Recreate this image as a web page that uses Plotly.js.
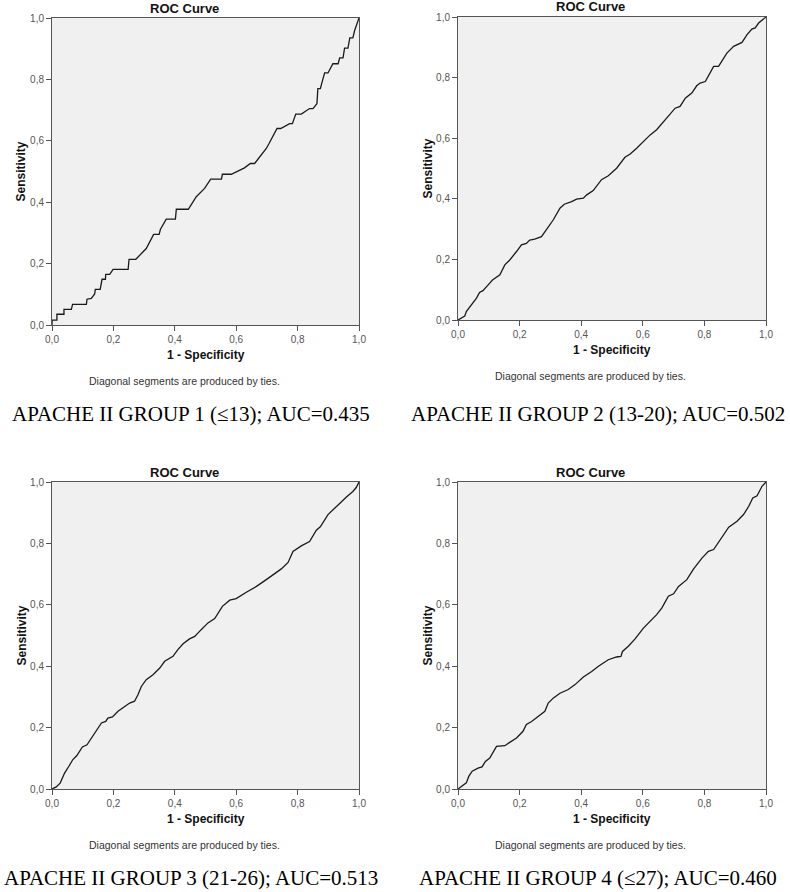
<!DOCTYPE html>
<html>
<head>
<meta charset="utf-8">
<script src="https://cdn.plot.ly/plotly-3.0.1.min.js"></script>
<style>
  html, body { margin: 0; padding: 0; background: #fff; }
  #chart { width: 790px; height: 892px; }
</style>
</head>
<body>
<div id="chart"></div>
<script>
// ROC curve points (1 - specificity, sensitivity)
const g1x = [0, 0, 0.016, 0.016, 0.039, 0.039, 0.063, 0.067, 0.112, 0.114, 0.128, 0.139, 0.141, 0.157, 0.163, 0.174, 0.175, 0.188, 0.199, 0.248, 0.251, 0.273, 0.307, 0.331, 0.349, 0.353, 0.372, 0.402, 0.405, 0.444, 0.470, 0.497, 0.517, 0.552, 0.555, 0.584, 0.627, 0.646, 0.660, 0.698, 0.707, 0.733, 0.745, 0.774, 0.783, 0.794, 0.812, 0.839, 0.850, 0.863, 0.866, 0.874, 0.888, 0.899, 0.915, 0.932, 0.937, 0.948, 0.953, 0.964, 0.970, 0.980, 0.986, 0.993, 1];
const g1y = [0, 0.016, 0.016, 0.035, 0.035, 0.051, 0.051, 0.067, 0.067, 0.084, 0.087, 0.101, 0.116, 0.116, 0.149, 0.149, 0.165, 0.165, 0.181, 0.181, 0.214, 0.214, 0.249, 0.295, 0.295, 0.311, 0.345, 0.345, 0.377, 0.377, 0.418, 0.445, 0.475, 0.475, 0.491, 0.491, 0.512, 0.526, 0.526, 0.575, 0.591, 0.640, 0.640, 0.656, 0.656, 0.687, 0.687, 0.705, 0.705, 0.721, 0.770, 0.770, 0.821, 0.821, 0.851, 0.851, 0.870, 0.870, 0.902, 0.902, 0.935, 0.935, 0.960, 0.982, 1];

const g2x = [0, 0.011, 0.022, 0.027, 0.043, 0.060, 0.070, 0.081, 0.098, 0.112, 0.136, 0.152, 0.168, 0.179, 0.190, 0.206, 0.222, 0.233, 0.249, 0.271, 0.287, 0.309, 0.331, 0.345, 0.369, 0.385, 0.407, 0.418, 0.439, 0.466, 0.488, 0.515, 0.542, 0.559, 0.580, 0.602, 0.624, 0.645, 0.667, 0.689, 0.705, 0.721, 0.738, 0.759, 0.775, 0.786, 0.803, 0.830, 0.846, 0.873, 0.895, 0.922, 0.938, 0.954, 0.965, 0.976, 1];
const g2y = [0, 0.006, 0.013, 0.028, 0.050, 0.072, 0.091, 0.097, 0.116, 0.132, 0.149, 0.182, 0.198, 0.211, 0.226, 0.248, 0.253, 0.264, 0.267, 0.275, 0.297, 0.330, 0.369, 0.382, 0.391, 0.399, 0.402, 0.413, 0.427, 0.463, 0.476, 0.501, 0.537, 0.548, 0.567, 0.589, 0.611, 0.628, 0.655, 0.683, 0.699, 0.705, 0.732, 0.749, 0.773, 0.782, 0.787, 0.837, 0.837, 0.881, 0.903, 0.916, 0.941, 0.960, 0.964, 0.980, 1];

const g3x = [0, 0.014, 0.027, 0.041, 0.055, 0.068, 0.081, 0.099, 0.114, 0.139, 0.161, 0.175, 0.182, 0.197, 0.215, 0.237, 0.253, 0.269, 0.280, 0.291, 0.307, 0.329, 0.351, 0.367, 0.394, 0.410, 0.427, 0.448, 0.465, 0.486, 0.508, 0.530, 0.555, 0.579, 0.600, 0.633, 0.666, 0.698, 0.720, 0.747, 0.769, 0.785, 0.812, 0.839, 0.861, 0.874, 0.899, 0.921, 0.937, 0.959, 0.980, 0.991, 1];
const g3y = [0, 0.007, 0.020, 0.052, 0.074, 0.096, 0.109, 0.137, 0.144, 0.182, 0.215, 0.220, 0.231, 0.235, 0.253, 0.269, 0.280, 0.286, 0.307, 0.334, 0.356, 0.372, 0.394, 0.416, 0.432, 0.454, 0.473, 0.489, 0.497, 0.519, 0.541, 0.555, 0.595, 0.615, 0.620, 0.641, 0.660, 0.682, 0.698, 0.717, 0.738, 0.774, 0.792, 0.806, 0.843, 0.854, 0.894, 0.913, 0.930, 0.951, 0.969, 0.982, 1];

const g4x = [0, 0.011, 0.027, 0.035, 0.046, 0.065, 0.078, 0.089, 0.103, 0.125, 0.152, 0.168, 0.190, 0.211, 0.222, 0.239, 0.260, 0.282, 0.293, 0.309, 0.331, 0.358, 0.380, 0.407, 0.434, 0.456, 0.488, 0.515, 0.529, 0.534, 0.553, 0.575, 0.602, 0.624, 0.645, 0.662, 0.683, 0.700, 0.716, 0.743, 0.765, 0.792, 0.813, 0.830, 0.851, 0.879, 0.906, 0.927, 0.944, 0.957, 0.971, 0.987, 1];
const g4y = [0, 0.007, 0.020, 0.041, 0.058, 0.068, 0.072, 0.090, 0.101, 0.139, 0.141, 0.152, 0.166, 0.188, 0.210, 0.220, 0.235, 0.253, 0.280, 0.296, 0.312, 0.324, 0.340, 0.365, 0.383, 0.400, 0.421, 0.430, 0.432, 0.448, 0.465, 0.489, 0.524, 0.546, 0.568, 0.590, 0.628, 0.636, 0.660, 0.682, 0.717, 0.752, 0.774, 0.780, 0.812, 0.853, 0.872, 0.894, 0.921, 0.948, 0.955, 0.986, 1];

const tickVals = [0, 0.2, 0.4, 0.6, 0.8, 1];
const tickText = ['0,0', '0,2', '0,4', '0,6', '0,8', '1,0'];
const captions = [
    'APACHE II GROUP 1 (\u226413); AUC=0.435',
    'APACHE II GROUP 2 (13-20); AUC=0.502',
    'APACHE II GROUP 3 (21-26); AUC=0.513',
    'APACHE II GROUP 4 (\u226427); AUC=0.460'
];

const W = 790, H = 892;
const px = v => v / W;
const py = v => 1 - v / H;

const sans = 'Liberation Sans, Arial, sans-serif';
const serif = 'Liberation Serif, Times New Roman, serif';

// pixel boxes for each plot area: [left, right, top, bottom]
const boxes = [
    [52, 359, 18, 325],
    [458, 766, 17, 320],
    [52, 359, 482, 789],
    [458, 766, 482, 789]
];
const series = [[g1x, g1y], [g2x, g2y], [g3x, g3y], [g4x, g4y]];

const traces = [];
const layout = {
    width: W,
    height: H,
    margin: { l: 0, r: 0, t: 0, b: 0 },
    paper_bgcolor: '#ffffff',
    showlegend: false,
    annotations: [],
    shapes: []
};

function label(text, x, y, font, extra) {
    layout.annotations.push(Object.assign({
        text: text, x: px(x), y: py(y), xref: 'paper', yref: 'paper',
        xanchor: 'center', yanchor: 'middle', showarrow: false, font: font
    }, extra || {}));
}

boxes.forEach((b, i) => {
    const n = i === 0 ? '' : String(i + 1);
    traces.push({
        x: series[i][0],
        y: series[i][1],
        xaxis: 'x' + n,
        yaxis: 'y' + n,
        type: 'scatter',
        mode: 'lines',
        line: { color: '#1a1a1a', width: 1.3 },
        hoverinfo: 'skip'
    });

    const axisBase = {
        range: [0, 1],
        tickvals: tickVals,
        ticktext: tickText,
        ticks: 'outside',
        ticklen: 5,
        tickcolor: '#555',
        showgrid: false,
        zeroline: false,
        showline: true,
        mirror: true,
        linecolor: '#555',
        linewidth: 1,
        tickfont: { family: sans, size: 10, color: '#555' },
        fixedrange: true
    };
    layout['xaxis' + n] = Object.assign({}, axisBase, {
        domain: [px(b[0]), px(b[1])],
        anchor: 'y' + n
    });
    layout['yaxis' + n] = Object.assign({}, axisBase, {
        domain: [py(b[3]), py(b[2])],
        anchor: 'x' + n
    });
    layout.shapes.push({
        type: 'rect', xref: 'paper', yref: 'paper', layer: 'below',
        x0: px(b[0]), x1: px(b[1]), y0: py(b[3]), y1: py(b[2]),
        fillcolor: '#f0f0f0', line: { width: 0 }
    });

    const left = i % 2 === 0;
    const titleX = left ? 184 : 590;
    const midX = (b[0] + b[1]) / 2;
    const midY = (b[2] + b[3]) / 2;
    label('<b>ROC Curve</b>', titleX, b[2] - 10, { family: sans, size: 13, color: '#111' });
    label('<b>Sensitivity</b>', b[0] - 31, midY, { family: sans, size: 12, color: '#111' }, { textangle: -90 });
    label('<b>1 - Specificity</b>', midX, b[3] + 30, { family: sans, size: 12, color: '#111' });
    label('Diagonal segments are produced by ties.', titleX, b[3] + 56, { family: sans, size: 10.5, color: '#333' });
    label(captions[i], left ? 191 : 598, i < 2 ? 414 : 878, { family: serif, size: 21, color: '#000' });
});

Plotly.newPlot('chart', traces, layout, { displayModeBar: false, staticPlot: true });
</script>
</body>
</html>
